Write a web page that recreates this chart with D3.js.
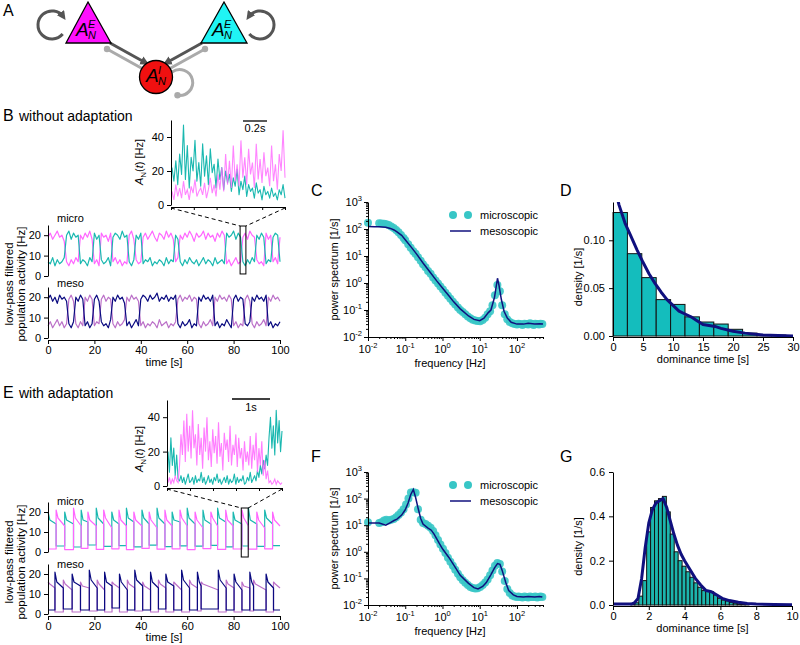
<!DOCTYPE html>
<html><head><meta charset="utf-8">
<script src="https://cdn.jsdelivr.net/npm/d3@7"></script>
<style>body{margin:0;background:#fff} svg text{font-family:"Liberation Sans",Arial,sans-serif}</style>
</head><body><svg id="fig" width="800" height="645"></svg>
<script>
// ---------------- DATA ----------------
// Panel B: low-pass filtered activity, 1 s samples, 0..100 s
const bMicroPink = [19,21,18,20,22,19,20,17, 7,5,8,6,9,7, 20,18,21,19,22,18, 6,8,5, 21,19,20,17,21, 7,9,6,8,5,7,6, 20,22,18, 8,6,7, 19,21,18,20,22,19,17,21,20,18,22,19,21,18, 7,9, 20,18,21,19,22,20,17,21,19,20,22,18,21,19,20,17,21,19,22,20, 6,8,5,7,9,6,7, 19,21,18,22,20,19, 8,6,7,5, 21,18,20, 7,9,6, 19];
const bMicroTeal = [7,6,9,5,8,6,7,9, 20,22,18,21,19,20, 6,8,7,5,9,7, 21,18,20, 8,6,7,9,5, 19,21,20,18,22,19,20, 7,5,8, 20,18,21, 6,8,7,9,5,7,6,8,7,5,9,6,8,7, 20,18, 7,5,8,6,9,7,6,8,5,7,9,6,8,7,5,9,6,7,8,6, 21,19,20,22,18,21,19, 7,5,8,6,9,7, 20,18,21,19, 6,8,7, 19,21,20, 7];
const bMesoNavy = [19,21,18,20,17,21,19,20,18, 7,5,8, 20,18,21,19, 6,8,5,7, 19,21,18, 8,6,7,5,9, 20,18,21,19,20,17, 6,8,5,7,9,6, 19,21,20,18,21,19,20,22,18,20,19,21,18,20,19,21, 7,5,8,6,7,9,5,7,6, 20,18,21,19,20,18,21, 6,8,5,7,6,9,7,5, 19,21,18,20,19, 7,6,8, 20,18,21,19,20,18,21, 6,8,5,7,6,8];
const bMesoPurple = [6,8,5,7,9,6,8,5,7, 19,21,18, 7,5,8,6, 20,18,21,19, 6,8,7, 19,21,18,20,19, 7,5,8,6,7,9, 20,18,21,19,20,18, 6,8,5,7,6,8,7,5,9,6,7,8,5,7,6,8, 19,21,18,20,19,21,18,20,19, 7,5,8,6,7,9,6, 20,18,21,19,20,18,21,19, 6,8,5,7,6, 19,21,18, 7,5,8,6,7,9,6, 20,18,21,19,20,18];
const bZoomWin = [82.8, 85.3];
// Panel B inset A_N(t) (~1 s window)
const bInsetTeal = [22,14,26,12,30,18,47,15,35,10,28,20,38,14,25,11,36,17,29,12,33,19,24,10,27,15,22,9,20,13,18,8,16,11,21,6,14,9,17,5,12,8,10,4,13,7,9,3,11,6,8,4,10,5,7,3,9,6,12,4];
const bInsetPink = [8,3,12,5,10,4,14,6,9,3,11,7,15,5,8,10,6,13,4,9,16,7,12,5,18,9,22,8,30,12,26,10,35,14,24,11,38,16,28,12,33,18,25,10,36,15,27,13,31,17,22,11,35,14,24,9,30,20,44,16];

// Panel E: dominance episodes (switch times, s) and values
const eMicroSwitch = [0,3.5,7.2,11.0,14.3,17.2,20.8,24.0,27.5,30.6,33.8,37.0,40.5,43.6,47.0,50.4,53.5,56.9,60.0,63.4,66.8,70.2,73.1,76.6,79.8,83.6,86.4,90.0,93.4,96.8,100];
const eMicroPeak = [20,21,20,22,21,20,22,21,20,21,22,20,21,20,22,21,20,21,22,20,21,20,22,21,20,21,22,20,21,20];
const eMicroMid  = [16,17,16,17,16,16,17,17,16,16,17,16,17,16,17,16,16,17,17,16,16,17,17,16,16,17,16,16,17,16];
const eMicroEnd  = [14,13,14,13,15,13,14,12,14,13,15,13,14,12,14,13,15,13,14,12,14,13,15,13,14,13,14,12,14,13];
const eMicroLow  = [1.5,3,1.2,2.5,1.8,3.5,1.3,2.8,1.6,3.2,1.2,2.6,1.8,3.4,1.4,2.7,1.6,3.1,1.2,2.9,1.7,3.3,1.3,2.6,1.5,3.0,1.4,2.8,1.6,3.2];
const eMesoSwitch = [0,3.0,6.6,10.4,14.0,17.8,21.2,24.4,27.6,30.8,34.2,37.4,40.8,44.2,47.6,50.8,54.2,57.6,61.0,64.4,66.0,73.4,76.8,80.2,83.6,87.0,88.6,94.0,97.2,100];
const eMesoPeak = [16,21,17,20,16,22,17,21,16,20,17,22,16,21,17,20,16,22,17,21,16,22,17,20,16,21,17,20,16];
const eMesoMid  = [15,16,15,16,14,17,15,16,15,16,15,17,14,16,15,16,15,17,15,16,15,17,15,16,14,16,15,16,15];
const eMesoEnd  = [13,13,12,14,13,13,12,14,13,12,13,14,12,13,13,14,12,13,13,14,12,13,13,12,13,14,12,13,13];
const eMesoLow  = [2,1,2.5,1,2,1.5,2,1,3,1,2,1.5,2,1,2.5,1,2,1,2,1.5,2.5,1,2,1,2,1.5,2,1,2];
const eZoomWin = [83.3, 86.3];
// Panel E inset (~3 s window)
const eInsetTeal = [20,8,28,12,22,6,18,4, 3,6,2,5,1,4,7,2,3,5,1,6,2,4,3,8,2,5,1,3,6,2,4,1,5,3,7,2,4,1,3,5,2,6,1,4,2,3,7,1,5,2,4,3,6,1,2,5,3,8,2,4,6,3,9,5,12,7,15,10,18,12, 28,40,22,35,18,44,25,38,20,32];
const eInsetPink = [2,5,1,4,2,6,3,2, 12,30,18,38,14,42,20,35,16,44,22,30,12,36,18,28,10,34,20,40,15,26,11,33,19,29,13,37,17,25,9,31,21,27,14,35,12,24,18,30,11,28,16,22,9,26,14,20,12,29,10,24,15,31,8,22,12,26,6,15,4,9, 2,3,1,2,4,1,3,2,1,2];

// Panel C spectra (without adaptation)
const cMicroF = [0.01,0.02,0.023,0.027,0.031,0.036,0.042,0.049,0.057,0.066,0.077,0.09,0.1,0.12,0.14,0.165,0.19,0.22,0.26,0.3,0.35,0.41,0.48,0.56,0.65,0.76,0.88,1.03,1.2,1.4,1.63,1.9,2.2,2.6,3.0,3.5,4.1,4.8,5.6,6.5,7.6,8.8,10.3,12,14,16.3,19,22,25.6,29.8,34.7,40,47,55,64,75,87,100,110,125,140,160,180,200,225,250,280,310,350,390,430,480];
const cMicroP = [170,165,160,158,150,140,125,110,92,75,60,46,38,27,20,15,12,9,6.6,5,3.8,2.8,2.2,1.6,1.25,0.95,0.74,0.58,0.44,0.34,0.26,0.2,0.16,0.125,0.1,0.085,0.07,0.058,0.05,0.044,0.041,0.039,0.038,0.043,0.052,0.07,0.09,0.15,0.35,0.85,0.5,0.15,0.07,0.045,0.036,0.032,0.03,0.029,0.031,0.03,0.028,0.031,0.03,0.029,0.032,0.03,0.028,0.031,0.03,0.029,0.031,0.03];
const cMesoF = [0.01,0.015,0.02,0.03,0.04,0.05,0.06,0.08,0.1,0.15,0.2,0.3,0.5,0.7,1,1.5,2,3,5,7,10,13,17,20,25,30,33,38,45,55,70,100,150,200,300,400,500];
const cMesoP = [125,122,120,115,105,92,78,58,40,20,12,5.5,2.2,1.2,0.65,0.33,0.2,0.11,0.06,0.045,0.04,0.05,0.08,0.1,0.3,1.5,0.8,0.25,0.09,0.05,0.035,0.03,0.03,0.032,0.03,0.031,0.03];
// Panel F spectra (with adaptation)
const fMicroF = [0.01,0.02,0.023,0.027,0.031,0.036,0.042,0.049,0.057,0.066,0.077,0.09,0.105,0.122,0.142,0.165,0.19,0.22,0.26,0.3,0.35,0.41,0.48,0.56,0.65,0.76,0.88,1.03,1.2,1.4,1.63,1.9,2.2,2.6,3.0,3.5,4.1,4.8,5.6,6.5,7.6,8.8,10.3,12,14,16.3,19,22,25.6,29.8,34.7,40,47,55,64,75,87,100,110,125,140,160,180,200,225,250,280,310,350,390,430,480];
const fMicroP = [13,12,13,15,16,15,16,17,20,24,30,40,60,100,170,175,165,40,16,12,11,9.5,8,6,4.2,2.8,1.9,1.3,0.9,0.6,0.42,0.3,0.21,0.15,0.11,0.085,0.068,0.056,0.048,0.044,0.042,0.043,0.047,0.056,0.07,0.09,0.13,0.2,0.3,0.38,0.35,0.18,0.08,0.04,0.028,0.023,0.021,0.02,0.021,0.02,0.019,0.021,0.02,0.019,0.021,0.02,0.02,0.021,0.019,0.02,0.021,0.02];
const fMesoF = [0.01,0.02,0.03,0.04,0.05,0.06,0.08,0.1,0.12,0.14,0.165,0.19,0.22,0.26,0.3,0.4,0.5,0.6,0.8,1,1.5,2,3,5,7,9,12,15,20,25,30,35,40,50,60,80,100,150,200,300,400,480];
const fMesoP = [12,12,10,12.5,15,17,24,38,70,140,220,110,45,18,11,8,6.5,4.5,2.2,1.3,0.6,0.32,0.13,0.065,0.045,0.04,0.05,0.07,0.14,0.25,0.36,0.34,0.2,0.07,0.035,0.024,0.021,0.02,0.021,0.02,0.021,0.02];
const logTicks = [0.01,0.1,1,10,100];
const logTicksY = [0.01,0.1,1,10,100,1000];

// Panel D histogram (dominance times without adaptation)
const dBinLeft = [0,2.4,4.8,7.2,9.6,12,14.4,16.8,19.2,21.6,24,26.4];
const dDens = [0.129,0.086,0.061,0.038,0.033,0.02,0.0146,0.0125,0.007,0.003,0.0015,0.001];
const dLineX = [0.5,1,2,3,4,5,6,7,8,9,10,11,12,13,14,15,16,17,18,20,22,25,30];
const dLineY = [0.15,0.137,0.118,0.104,0.09,0.077,0.065,0.055,0.046,0.038,0.032,0.026,0.023,0.02,0.016,0.012,0.011,0.01,0.008,0.005,0.003,0.001,0];
// Panel G histogram (with adaptation)
const gBinLeft = [1.0,1.22,1.44,1.66,1.88,2.10,2.32,2.54,2.76,2.98,3.20,3.42,3.64,3.86,4.08,4.30,4.52,4.74,4.96,5.18,5.40,5.62,5.84,6.06,6.28,6.50,6.72,6.94,7.16,7.38];
const gDens = [0.004,0.01,0.04,0.11,0.33,0.44,0.47,0.48,0.49,0.42,0.32,0.24,0.20,0.175,0.15,0.125,0.10,0.08,0.065,0.065,0.06,0.045,0.03,0.022,0.018,0.012,0.008,0.005,0.003,0.002];
const gLineX = [0,0.5,1.0,1.2,1.4,1.6,1.8,2.0,2.2,2.4,2.6,2.8,3.0,3.2,3.4,3.6,3.8,4.0,4.3,4.6,4.9,5.2,5.5,5.8,6.1,6.5,7,7.5,8,9,10];
const gLineY = [0.005,0.005,0.004,0.01,0.03,0.12,0.26,0.37,0.43,0.46,0.47,0.48,0.44,0.38,0.32,0.27,0.23,0.2,0.16,0.12,0.09,0.065,0.06,0.045,0.03,0.02,0.012,0.007,0.004,0.002,0.001];

// ---------------- STYLE ----------------
const FONT = "Liberation Sans, Arial, sans-serif";
const C_PINK = "#ff66ff", C_TEAL = "#1ab8b0", C_NAVY = "#0a0a80", C_PURP = "#bb70c8";
const C_DOT = "#38c6c6", C_BAR = "#14bdbd", C_BARG = "#1cb5ad", C_LINE = "#10107e";

const svg = d3.select("#fig");
svg.append("rect").attr("width",800).attr("height",645).attr("fill","#fff");

function styleAxis(sel){
  sel.attr("font-family",FONT).attr("font-size",11);
  sel.selectAll("path.domain").attr("stroke","#000");
  sel.selectAll(".tick line").attr("stroke","#000");
  sel.selectAll(".tick text").attr("fill","#000");
}
function txt(x,y,s,opt={}){
  const t = svg.append("text").attr("x",x).attr("y",y).attr("font-size",opt.size||11)
    .attr("text-anchor",opt.anchor||"start").attr("fill","#000").text(s);
  return t;
}
function letter(x,y,s){ txt(x,y,s,{size:16}); }

// ---------------- PANEL A ----------------
const defs = svg.append("defs");
defs.append("marker").attr("id","arr").attr("viewBox","0 0 10 10").attr("refX",6).attr("refY",5)
  .attr("markerWidth",3).attr("markerHeight",3).attr("orient","auto")
  .append("path").attr("d","M0,0L10,5L0,10z").attr("fill","#555");
const gA = svg.append("g");
gA.append("path").attr("d","M62.7,34 A14,14 0 1 1 63.5,17").attr("fill","none").attr("stroke","#555").attr("stroke-width",3).attr("marker-end","url(#arr)");
gA.append("path").attr("d","M249.3,34 A14,14 0 1 0 248.5,17").attr("fill","none").attr("stroke","#555").attr("stroke-width",3).attr("marker-end","url(#arr)");
gA.append("path").attr("d","M172,72 A13,13 0 1 1 177.5,95.3").attr("fill","none").attr("stroke","#aaa").attr("stroke-width",3);
gA.append("circle").attr("cx",177.5).attr("cy",95.3).attr("r",3.2).attr("fill","#aaa");
gA.append("line").attr("x1",143).attr("y1",69).attr("x2",107).attr("y2",49).attr("stroke","#aaa").attr("stroke-width",3);
gA.append("circle").attr("cx",107).attr("cy",49).attr("r",3.2).attr("fill","#aaa");
gA.append("line").attr("x1",169).attr("y1",69).attr("x2",205).attr("y2",49).attr("stroke","#aaa").attr("stroke-width",3);
gA.append("circle").attr("cx",205).attr("cy",49).attr("r",3.2).attr("fill","#aaa");
gA.append("line").attr("x1",110).attr("y1",43).attr("x2",146).attr("y2",63).attr("stroke","#555").attr("stroke-width",3).attr("marker-end","url(#arr)");
gA.append("line").attr("x1",202).attr("y1",43).attr("x2",166).attr("y2",63).attr("stroke","#555").attr("stroke-width",3).attr("marker-end","url(#arr)");
gA.append("path").attr("d","M88,2 L111,43 L66,43 Z").attr("fill","#ff10ff").attr("stroke","#000").attr("stroke-width",1.3);
gA.append("path").attr("d","M224,2 L247,43 L201,43 Z").attr("fill","#20f4f4").attr("stroke","#000").attr("stroke-width",1.3);
gA.append("circle").attr("cx",156).attr("cy",77).attr("r",16.5).attr("fill","#f01010").attr("stroke","#000").attr("stroke-width",1.3);
function nodeLabel(x,y,sup){
  svg.append("text").attr("x",x).attr("y",y).attr("font-size",19).attr("font-style","italic").text("A");
  svg.append("text").attr("x",x+12).attr("y",y-8).attr("font-size",11).attr("font-style","italic").text(sup);
  svg.append("text").attr("x",x+12).attr("y",y+3).attr("font-size",11).attr("font-style","italic").text("N");
}
nodeLabel(76,36,"E"); nodeLabel(212,36,"E"); nodeLabel(146,82,"I");
letter(3,16,"A");

// ---------------- TIME SERIES HELPERS ----------------
function drawSeries(g, pts, x, y, color, w){
  g.append("path").datum(pts).attr("fill","none").attr("stroke",color).attr("stroke-width",w||1.2)
    .attr("stroke-linejoin","round").attr("d",d3.line().x(d=>x(d[0])).y(d=>y(d[1])));
}
function yAxis(x0, y, ticks, fmt){
  const g = svg.append("g").attr("transform",`translate(${x0},0)`)
    .call(d3.axisLeft(y).tickValues(ticks).tickSize(4).tickSizeOuter(0).tickPadding(3).tickFormat(fmt||d3.format("d")));
  styleAxis(g); return g;
}
function episodes(sw, parity, peak, mid, end, low){
  const pts=[];
  for(let i=0;i<sw.length-1;i++){
    const t0=sw[i], t1=sw[i+1];
    if(i%2===parity) pts.push([t0,peak[i]],[Math.min(t0+0.8,t1),mid[i]],[t1,end[i]]);
    else pts.push([t0,low[i]],[t1,low[i]]);
  }
  return pts;
}
function insetLabel(x,y){
  const t = svg.append("text").attr("transform",`translate(${x},${y}) rotate(-90)`).attr("text-anchor","middle").attr("font-size",11);
  t.append("tspan").attr("font-style","italic").text("A");
  t.append("tspan").attr("font-size",8).attr("dy",3).text("N");
  t.append("tspan").attr("dy",-3).text("(");
  t.append("tspan").attr("font-style","italic").text("t");
  t.append("tspan").text(") [Hz]");
}
function popLabel(cy){
  svg.append("text").attr("transform",`translate(13,${cy}) rotate(-90)`).attr("text-anchor","middle").attr("font-size",11.5).text("low-pass filtered");
  svg.append("text").attr("transform",`translate(25,${cy}) rotate(-90)`).attr("text-anchor","middle").attr("font-size",11.5).text("population activity [Hz]");
}

// ---------------- PANEL B ----------------
letter(3,121,"B"); txt(19,121,"without adaptation",{size:14});
const xB = d3.scaleLinear([0,100],[48,280]);
const yBmi = d3.scaleLinear([0,25],[276,225]);
const yBme = d3.scaleLinear([0,25],[338,287]);
const gB = svg.append("g");
const bPts = arr => arr.map((v,i)=>[i,v]);
drawSeries(gB,bPts(bMicroPink),xB,yBmi,C_PINK);
drawSeries(gB,bPts(bMicroTeal),xB,yBmi,C_TEAL);
drawSeries(gB,bPts(bMesoPurple),xB,yBme,C_PURP);
drawSeries(gB,bPts(bMesoNavy),xB,yBme,C_NAVY);
yAxis(48,yBmi,[0,10,20]); yAxis(48,yBme,[0,10,20]);
styleAxis(svg.append("g").attr("transform","translate(0,340)").call(d3.axisBottom(xB).tickValues([0,20,40,60,80,100]).tickSize(4).tickSizeOuter(0).tickPadding(2)));
txt(164,366,"time [s]",{anchor:"middle",size:11.5});
txt(57,222,"micro"); txt(57,287,"meso");
popLabel(284);
svg.append("rect").attr("x",xB(bZoomWin[0])).attr("y",yBmi(24.5)).attr("width",xB(bZoomWin[1])-xB(bZoomWin[0])).attr("height",yBmi(1)-yBmi(24.5)).attr("fill","none").attr("stroke","#000").attr("stroke-width",1);
const xBi = d3.scaleLinear([0,bInsetTeal.length-1],[172,285]);
const yBi = d3.scaleLinear([0,50],[205,120]);
drawSeries(svg,bPts(bInsetTeal),xBi,yBi,C_TEAL,1.1);
svg.append("path").datum(bPts(bInsetPink)).attr("fill","none").attr("stroke",C_PINK).attr("stroke-opacity",0.8).attr("stroke-width",1.1)
  .attr("d",d3.line().x(d=>xBi(d[0])).y(d=>yBi(d[1])));
yAxis(171,yBi,[0,20,40]);
const xBiAx = d3.scaleLinear([0,5],[171,285]);
styleAxis(svg.append("g").attr("transform","translate(0,207)").call(d3.axisBottom(xBiAx).tickValues([0,1,2,3,4,5]).tickSize(3).tickSizeOuter(0).tickFormat("")));
svg.append("line").attr("x1",171).attr("y1",208).attr("x2",xB(bZoomWin[0])).attr("y2",yBmi(24.5)).attr("stroke","#000").attr("stroke-dasharray","4,3");
svg.append("line").attr("x1",285).attr("y1",208).attr("x2",xB(bZoomWin[1])).attr("y2",yBmi(24.5)).attr("stroke","#000").attr("stroke-dasharray","4,3");
svg.append("line").attr("x1",243).attr("x2",267).attr("y1",121).attr("y2",121).attr("stroke","#000").attr("stroke-width",1.3);
txt(255,132,"0.2s",{anchor:"middle"});
insetLabel(143,162);

// ---------------- PANEL E ----------------
letter(3,398,"E"); txt(19,398,"with adaptation",{size:14});
const xE = d3.scaleLinear([0,100],[48,280]);
const yEmi = d3.scaleLinear([0,25],[552,502]);
const yEme = d3.scaleLinear([0,25],[614,564]);
const gE = svg.append("g");
drawSeries(gE,episodes(eMicroSwitch,0,eMicroPeak,eMicroMid,eMicroEnd,eMicroLow),xE,yEmi,C_TEAL);
drawSeries(gE,episodes(eMicroSwitch,1,eMicroPeak,eMicroMid,eMicroEnd,eMicroLow),xE,yEmi,C_PINK);
drawSeries(gE,episodes(eMesoSwitch,0,eMesoPeak,eMesoMid,eMesoEnd,eMesoLow),xE,yEme,C_PURP);
drawSeries(gE,episodes(eMesoSwitch,1,eMesoPeak,eMesoMid,eMesoEnd,eMesoLow),xE,yEme,C_NAVY);
yAxis(48,yEmi,[0,10,20]); yAxis(48,yEme,[0,10,20]);
styleAxis(svg.append("g").attr("transform","translate(0,616)").call(d3.axisBottom(xE).tickValues([0,20,40,60,80,100]).tickSize(4).tickSizeOuter(0).tickPadding(2)));
txt(164,641,"time [s]",{anchor:"middle",size:11.5});
txt(57,505,"micro"); txt(57,568,"meso");
popLabel(562);
svg.append("rect").attr("x",xE(eZoomWin[0])).attr("y",yEmi(22)).attr("width",xE(eZoomWin[1])-xE(eZoomWin[0])).attr("height",yEmi(-2.5)-yEmi(22)).attr("fill","none").attr("stroke","#000").attr("stroke-width",1);
const xEi = d3.scaleLinear([0,eInsetTeal.length-1],[168,282]);
const yEi = d3.scaleLinear([0,50],[486,400]);
drawSeries(svg,bPts(eInsetTeal),xEi,yEi,C_TEAL,1.1);
svg.append("path").datum(bPts(eInsetPink)).attr("fill","none").attr("stroke",C_PINK).attr("stroke-opacity",0.85).attr("stroke-width",1.1)
  .attr("d",d3.line().x(d=>xEi(d[0])).y(d=>yEi(d[1])));
yAxis(167,yEi,[0,20,40]);
const xEiAx = d3.scaleLinear([0,5],[167,282]);
styleAxis(svg.append("g").attr("transform","translate(0,488)").call(d3.axisBottom(xEiAx).tickValues([0,1,2,3,4,5]).tickSize(3).tickSizeOuter(0).tickFormat("")));
svg.append("line").attr("x1",167).attr("y1",489).attr("x2",xE(eZoomWin[0])).attr("y2",yEmi(22)).attr("stroke","#000").attr("stroke-dasharray","4,3");
svg.append("line").attr("x1",282).attr("y1",489).attr("x2",xE(eZoomWin[1])).attr("y2",yEmi(22)).attr("stroke","#000").attr("stroke-dasharray","4,3");
svg.append("line").attr("x1",232).attr("x2",270).attr("y1",399).attr("y2",399).attr("stroke","#000").attr("stroke-width",1.3);
txt(251,411,"1s",{anchor:"middle"});
insetLabel(143,449);

// ---------------- SPECTRA (C, F) ----------------
function spectrum(top, bottom, microF, microP, mesoF, mesoP){
  const x = d3.scaleLog([0.01,500],[368,543]);
  const y = d3.scaleLog([0.01,1000],[bottom,top]);
  const g = svg.append("g");
  g.selectAll("circle").data(microF.map((f,i)=>[f,microP[i]])).join("circle")
    .attr("cx",d=>x(d[0])).attr("cy",d=>y(d[1])).attr("r",4).attr("fill",C_DOT).attr("fill-opacity",0.9);
  g.append("path").datum(mesoF.map((f,i)=>[f,mesoP[i]])).attr("fill","none").attr("stroke",C_LINE).attr("stroke-width",1.5)
    .attr("d",d3.line().x(d=>x(d[0])).y(d=>y(d[1])));
  const minor=[]; logTicks.forEach(d=>{for(let k=2;k<10;k++){ if(d*k<=500) minor.push(d*k);} });
  styleAxis(svg.append("g").attr("transform",`translate(0,${bottom})`).call(d3.axisBottom(x).tickValues(logTicks).tickSize(4).tickSizeOuter(0).tickFormat("")));
  styleAxis(svg.append("g").attr("transform",`translate(0,${bottom})`).call(d3.axisBottom(x).tickValues(minor).tickSize(2).tickFormat("")).call(s=>s.select(".domain").remove()));
  const minorY=[]; logTicksY.slice(0,-1).forEach(d=>{for(let k=2;k<10;k++) minorY.push(d*k);});
  styleAxis(svg.append("g").attr("transform","translate(368,0)").call(d3.axisLeft(y).tickValues(logTicksY).tickSize(4).tickSizeOuter(0).tickFormat("")));
  styleAxis(svg.append("g").attr("transform","translate(368,0)").call(d3.axisLeft(y).tickValues(minorY).tickSize(2).tickFormat("")).call(s=>s.select(".domain").remove()));
  logTicks.forEach(d=>{
    const t = svg.append("text").attr("x",x(d)).attr("y",bottom+16).attr("text-anchor","middle").attr("font-size",11).text("10");
    t.append("tspan").attr("dy",-5).attr("font-size",7.5).text(Math.round(Math.log10(d)));
  });
  logTicksY.forEach(d=>{
    const t = svg.append("text").attr("x",362).attr("y",y(d)+4).attr("text-anchor","end").attr("font-size",11).text("10");
    t.append("tspan").attr("dy",-5).attr("font-size",7.5).text(Math.round(Math.log10(d)));
  });
  txt(450,bottom+30,"frequency [Hz]",{anchor:"middle"});
  svg.append("text").attr("transform",`translate(338,${(top+bottom)/2}) rotate(-90)`).attr("text-anchor","middle").attr("font-size",11).text("power spectrum [1/s]");
  const ly = top+13;
  svg.append("circle").attr("cx",453).attr("cy",ly).attr("r",4).attr("fill",C_DOT);
  svg.append("circle").attr("cx",468).attr("cy",ly).attr("r",4).attr("fill",C_DOT);
  txt(480,ly+4,"microscopic");
  svg.append("line").attr("x1",450).attr("x2",471).attr("y1",ly+16).attr("y2",ly+16).attr("stroke",C_LINE).attr("stroke-width",1.5);
  txt(480,ly+20,"mesoscopic");
}
spectrum(202,337,cMicroF,cMicroP,cMesoF,cMesoP);
letter(311,196,"C");
spectrum(472,605,fMicroF,fMicroP,fMesoF,fMesoP);
letter(311,462,"F");

// ---------------- HISTOGRAMS (D, G) ----------------
function histo(x, y, left, dens, width, lx, ly, fill, yTicks, yFmt, xTicks, bottom, top){
  const g = svg.append("g");
  g.selectAll("rect").data(left.map((l,i)=>[l,dens[i]])).join("rect")
    .attr("x",d=>x(d[0])).attr("width",d=>x(d[0]+width)-x(d[0])).attr("y",d=>y(d[1])).attr("height",d=>y(0)-y(d[1]))
    .attr("fill",fill).attr("stroke","#111").attr("stroke-width",1);
  const clipId = "clip"+top;
  svg.append("clipPath").attr("id",clipId).append("rect").attr("x",x.range()[0]).attr("y",top).attr("width",x.range()[1]-x.range()[0]+2).attr("height",bottom-top+2);
  svg.append("path").datum(lx.map((v,i)=>[v,ly[i]])).attr("clip-path",`url(#${clipId})`).attr("fill","none").attr("stroke",C_LINE).attr("stroke-width",3)
    .attr("stroke-linejoin","round").attr("d",d3.line().x(d=>x(d[0])).y(d=>y(d[1])));
  styleAxis(svg.append("g").attr("transform",`translate(${x.range()[0]},0)`).call(d3.axisLeft(y).tickValues(yTicks).tickFormat(yFmt).tickSize(4).tickSizeOuter(0).tickPadding(4)));
  styleAxis(svg.append("g").attr("transform",`translate(0,${bottom+1})`).call(d3.axisBottom(x).tickValues(xTicks).tickFormat(d3.format("d")).tickSize(4).tickSizeOuter(0).tickPadding(2)));
  txt((x.range()[0]+x.range()[1])/2,bottom+27,"dominance time [s]",{anchor:"middle"});
  svg.append("text").attr("transform",`translate(582,${(top+bottom)/2+8}) rotate(-90)`).attr("text-anchor","middle").attr("font-size",11).text("density [1/s]");
}
const xD = d3.scaleLinear([0,30],[613,793]);
const yD = d3.scaleLinear([0,0.14],[336,202]);
histo(xD,yD,dBinLeft,dDens,2.4,dLineX,dLineY,C_BAR,[0,0.05,0.10],d3.format(".2f"),[0,5,10,15,20,25,30],336,202);
letter(560,196,"D");
const xG = d3.scaleLinear([0,10],[613,792]);
const yG = d3.scaleLinear([0,0.6],[605,472]);
histo(xG,yG,gBinLeft,gDens,0.22,gLineX,gLineY,C_BARG,[0,0.2,0.4,0.6],d3.format(".1f"),[0,2,4,6,8,10],605,472);
letter(560,462,"G");
</script></body></html>
